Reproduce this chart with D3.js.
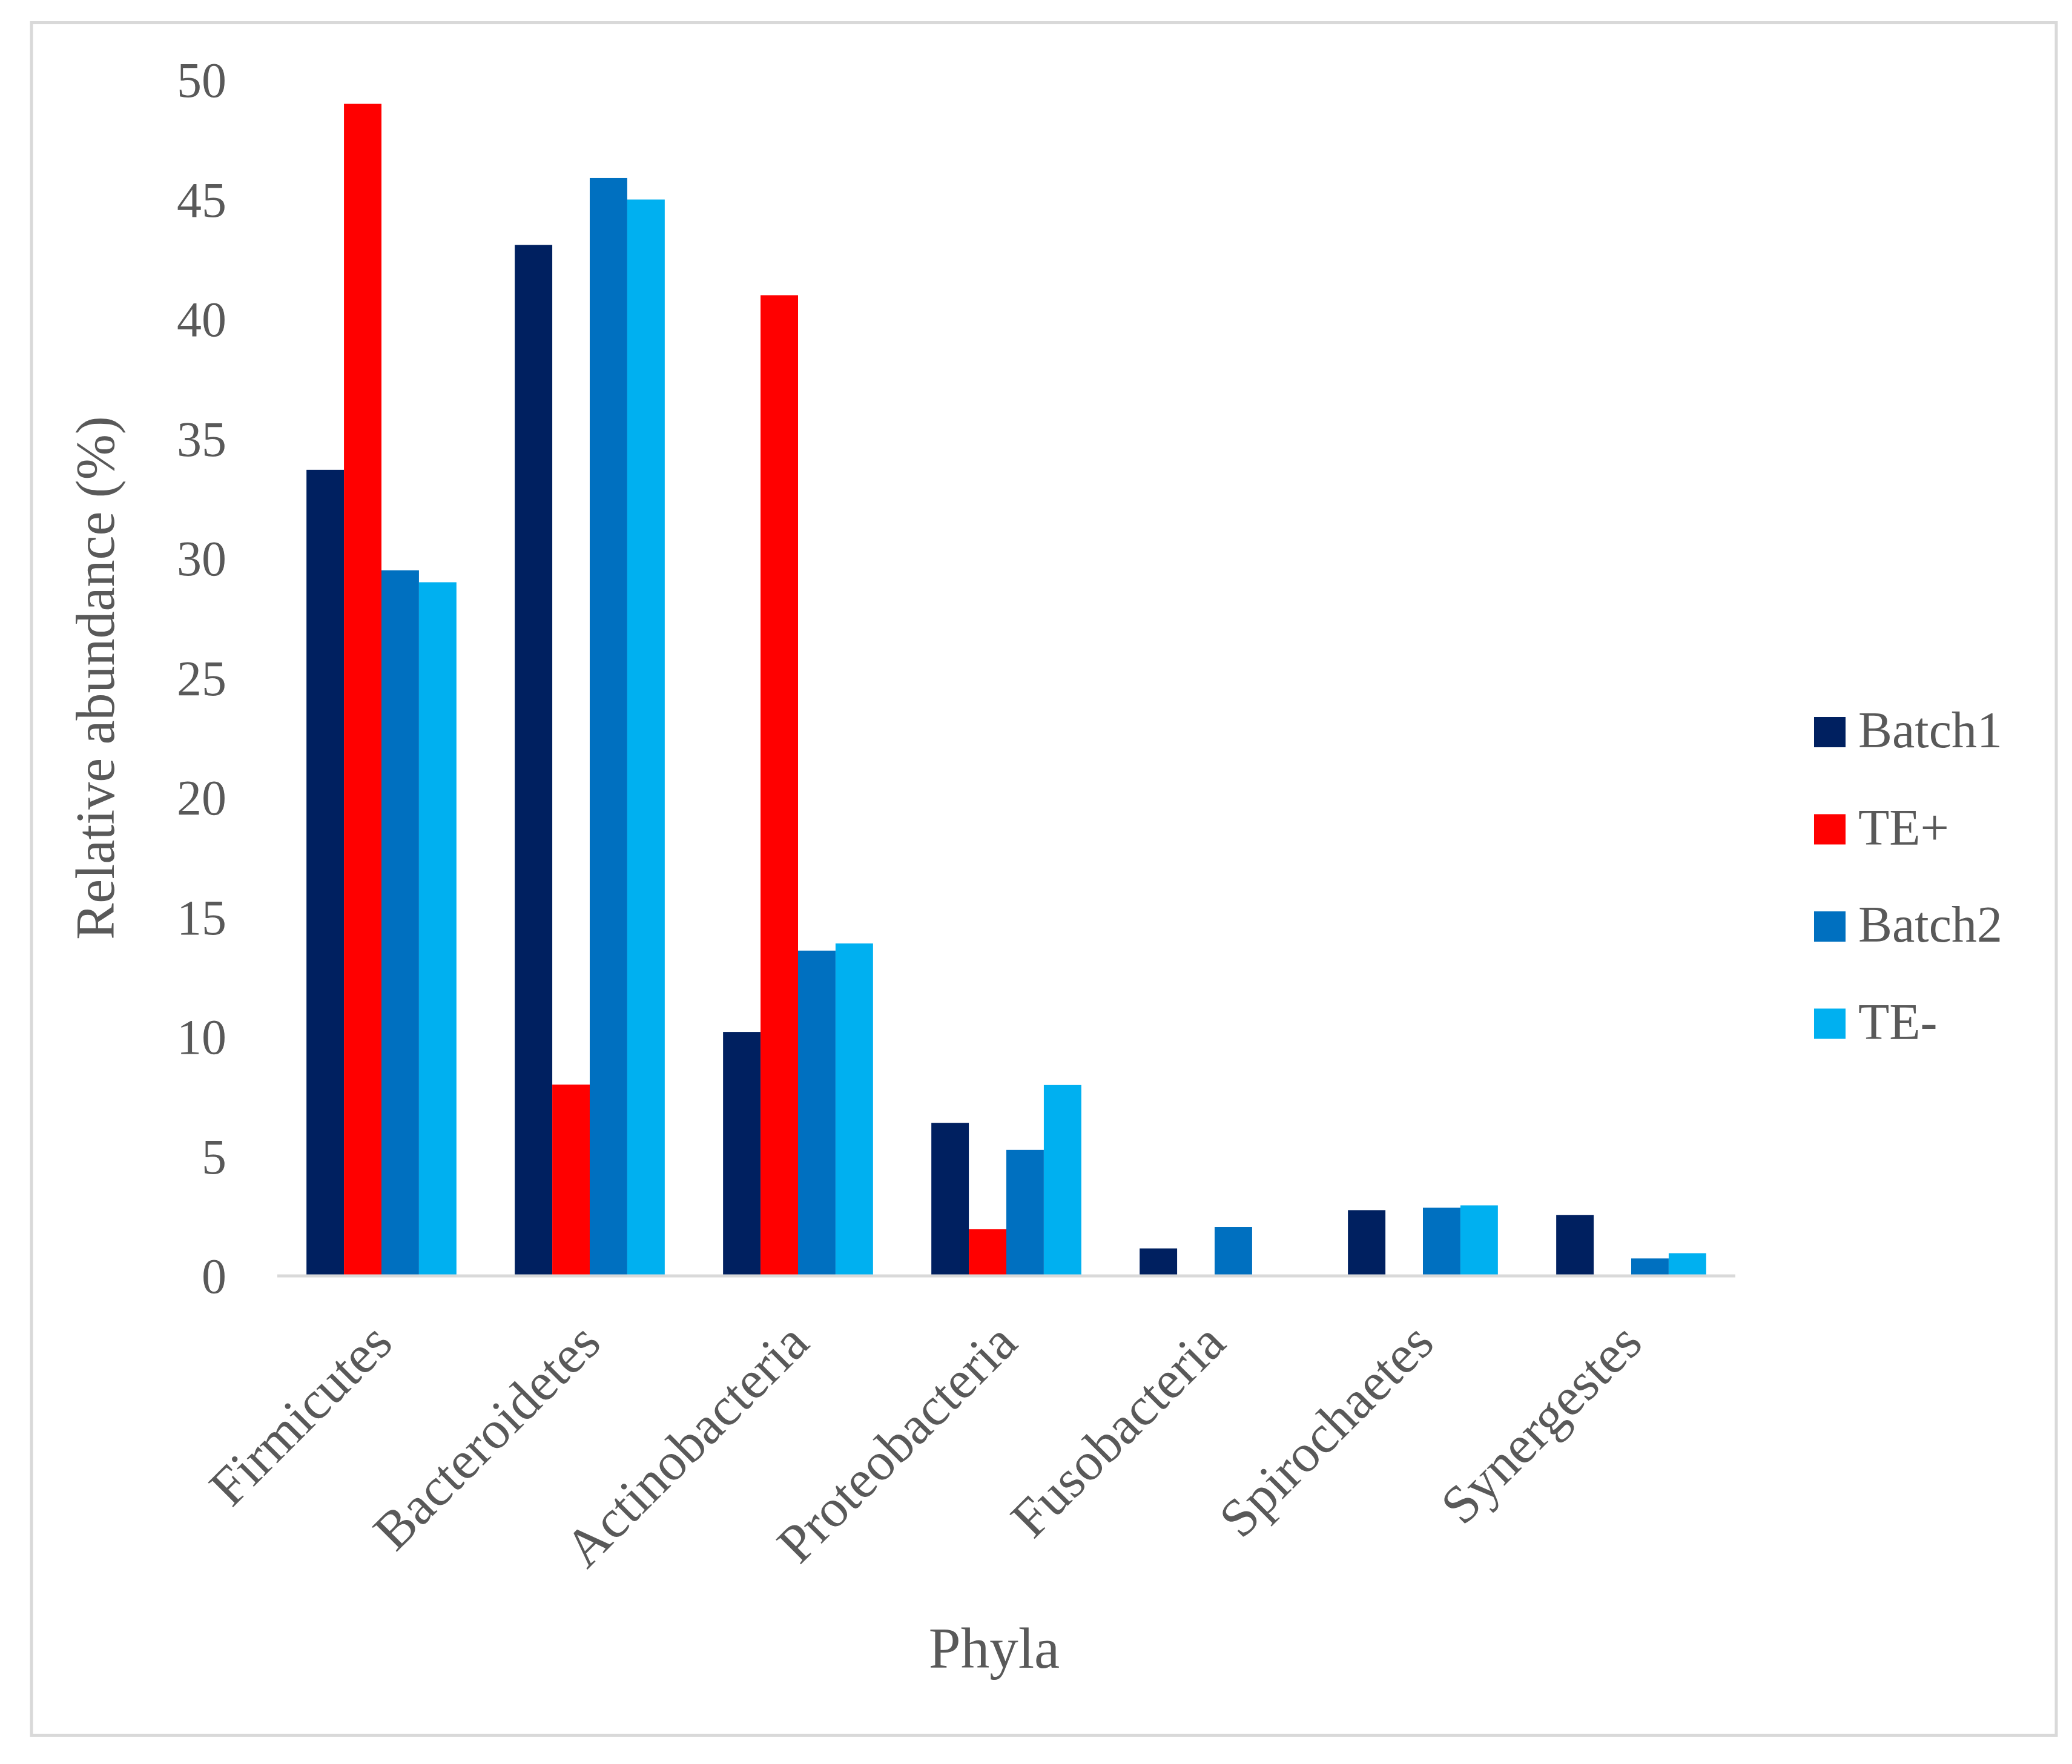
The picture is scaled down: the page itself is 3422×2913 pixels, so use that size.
<!DOCTYPE html>
<html>
<head>
<meta charset="utf-8">
<script src="https://cdn.jsdelivr.net/npm/d3@7"></script>
<style>
    html, body { margin: 0; padding: 0; background: #fff; }
    svg text { font-family: "Palatino Linotype", "Book Antiqua", Palatino, "Liberation Serif", serif; fill: #595959; }
</style>
</head>
<body>
<div id="chart"></div>
<script>
// phyla along the x axis
const phyla = ["Firmicutes", "Bacteroidetes", "Actinobacteria", "Proteobacteria",
               "Fusobacteria", "Spirochaetes", "Synergestes"];

// series names + colours
const seriesNames = ["Batch1", "TE+", "Batch2", "TE-"];
const seriesColors = ["#002060", "#FF0000", "#0070C0", "#00B0F0"];

// relative abundance (%) per series, in phyla order
const batch1 = [33.7, 43.1, 10.2, 6.4, 1.15, 2.75, 2.55];
const tePlus = [49.0, 8.0, 41.0, 1.95, 0, 0, 0];
const batch2 = [29.5, 45.9, 13.6, 5.27, 2.05, 2.85, 0.73];
const teMinus = [29.0, 45.0, 13.9, 7.98, 0, 2.95, 0.95];

const yTicks = [0, 5, 10, 15, 20, 25, 30, 35, 40, 45, 50];

const W = 3422, H = 2913;
const plot = {left: 458, right: 2866, top: 132, bottom: 2107};

let svg = d3.select("#chart").append("svg")
    .attr("width", W)
    .attr("height", H);

svg.append("rect")
    .attr("width", W).attr("height", H)
    .attr("fill", "#fff");

// chart frame
svg.append("rect")
    .attr("x", 52).attr("y", 37.5)
    .attr("width", 3344).attr("height", 2828)
    .attr("fill", "none")
    .attr("stroke", "#d9d9d9")
    .attr("stroke-width", 5);

let x = d3.scaleBand()
    .domain(phyla)
    .range([plot.left, plot.right])
    .paddingInner(0.28)
    .paddingOuter(0.14);

let xs = d3.scaleBand()
    .domain(seriesNames)
    .range([0, x.bandwidth()]);

let y = d3.scaleLinear()
    .domain([0, 50])
    .range([plot.bottom, plot.top]);

// rows: one per phylum, values in series order
let values = [batch1, tePlus, batch2, teMinus];
let rows = phyla.map((p, i) => ({
    phylum: p,
    vals: seriesNames.map((s, j) => ({series: s, color: seriesColors[j], v: values[j][i]}))
}));

// bars
let groups = svg.append("g").selectAll("g")
    .data(rows)
    .enter().append("g")
    .attr("transform", d => "translate(" + x(d.phylum) + ",0)");

groups.selectAll("rect")
    .data(d => d.vals.filter(v => v.v > 0))
    .enter().append("rect")
    .attr("x", d => xs(d.series))
    .attr("y", d => y(d.v))
    .attr("width", xs.bandwidth())
    .attr("height", d => y(0) - y(d.v))
    .attr("fill", d => d.color);

// y axis (labels only, no line)
let yAxis = svg.append("g")
    .attr("transform", "translate(374,0)")
    .call(d3.axisLeft(y).tickValues(yTicks).tickSize(0).tickPadding(0));
yAxis.select(".domain").remove();
yAxis.selectAll("text")
    .attr("font-size", 82)
    .attr("dy", "0.34em")
    .style("font-family", null);

// x axis baseline
svg.append("line")
    .attr("x1", plot.left).attr("x2", plot.right)
    .attr("y1", y(0)).attr("y2", y(0))
    .attr("stroke", "#d9d9d9")
    .attr("stroke-width", 5);

// rotated category labels
svg.append("g").selectAll("text")
    .data(phyla)
    .enter().append("text")
    .attr("transform", d => "translate(" + (x(d) + x.bandwidth() / 2 + 22) + ",2222) rotate(-45)")
    .attr("text-anchor", "end")
    .attr("font-size", 89)
    .text(d => d);

// axis titles
svg.append("text")
    .attr("transform", "translate(188," + ((plot.top + plot.bottom) / 2 + 0) + ") rotate(-90)")
    .attr("x", 0)
    .attr("y", 0)
    .attr("text-anchor", "middle")
    .attr("font-size", 90)
    .text("Relative abundance (%)");

svg.append("text")
    .attr("x", 1642).attr("y", 2754)
    .attr("text-anchor", "middle")
    .attr("font-size", 95)
    .text("Phyla");

// legend
let legend = svg.append("g").selectAll("g")
    .data(seriesNames)
    .enter().append("g")
    .attr("transform", (d, i) => "translate(2996," + (1234 + i * 160.5) + ")");

legend.append("rect")
    .attr("x", 0).attr("y", -50)
    .attr("width", 52).attr("height", 50)
    .attr("fill", (d, i) => seriesColors[i]);

legend.append("text")
    .attr("x", 73).attr("y", 0)
    .attr("font-size", 84)
    .text(d => d);
</script>
</body>
</html>
